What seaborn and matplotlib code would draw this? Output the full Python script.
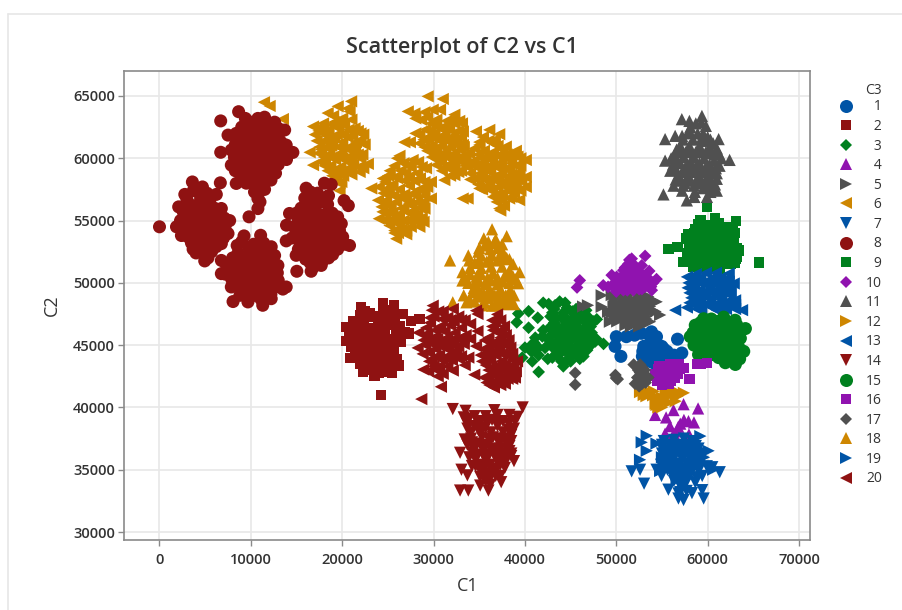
# -*- coding: utf-8 -*-
import pandas as pd
import matplotlib
matplotlib.use("Agg")
import matplotlib.pyplot as plt
from matplotlib.lines import Line2D
import seaborn as sns

# points, one list per C3 group
pts_01 = [(50000,45680),(51100,45680),(52000,45800),(52750,45950),(53850,46070),(54400,45680),(49860,44900),(50500,44100),
          (53000,44900),(52850,44100),(53800,45100),(54300,44900),(54980,44900),(55550,44500),(56700,45480),(57170,44370),
          (55900,44000),(54000,44200),(54700,44300),(53500,44500),(56300,44200),(53300,43700),(54000,43600),(55000,43800),
          (54000,45000),(53400,44300),(55000,44300),(55500,44100),(56500,44000),(54200,43800),(55200,44700),(52900,44500),
          (53700,45700),(54300,45400)]
pts_02 = [(22070,48040),(22500,47700),(24440,48390),(25700,48170),(26620,47500),(27500,46940),(28440,47080),(20440,46450),
          (20440,45320),(20870,43980),(22250,42900),(23530,42500),(25440,42770),(26170,43360),(27300,45920),(24270,41000),
          (21200,46900),(22300,46600),(23400,47300),(24200,47200),(25400,47000),(26300,46500),(21500,45700),(22700,45600),
          (23600,46000),(24700,46100),(25800,45500),(21400,44800),(22500,44600),(23500,44900),(24600,45000),(25700,44500),
          (21800,44000),(23000,43700),(24100,43900),(25100,43800),(23400,43000),(24400,42900),(24800,43300),(22800,44100),
          (22000,47400),(23000,47600),(24500,47800),(25500,47600),(20900,46400),(21800,46200),(22900,46300),(23900,46600),
          (24900,46600),(25900,46100),(26800,46000),(21000,45700),(22200,45200),(23200,45300),(24200,45500),(25200,45300),
          (26400,45300),(21000,44900),(22000,44300),(23000,44500),(24100,44400),(25100,44500),(22000,43500),(22800,43300),
          (23700,43400),(24700,43400),(25700,43600),
          (20800,45900),(21600,45100),(22500,45800),(23300,45700),(24500,44700),(25500,44900),(21400,44300),(22600,44000),
          (23500,43900),(24600,43800),(25600,44100),(22400,47000),(23500,46400),(24700,47300),(25800,46800),(21300,46300),
          (26000,43900),(23000,43000),(24000,42800)]
pts_03 = [(39270,47530),(40400,47720),(42000,48400),(42600,48300),(43800,48500),(39100,46830),(41400,47200),(40400,46400),
          (41130,45600),(47860,47070),(48600,45100),(47700,45300),(46400,44100),(44200,43300),(41500,42850),(40000,44800),
          (40800,43700),(42200,44780),(41900,45700),(44000,43700),(43200,47900),(44600,48000),(45600,47900),(46700,47800),
          (42800,47300),(44000,47200),(45200,47100),(46400,47000),(47200,46500),(42700,46400),(43800,46300),(45000,46200),
          (46200,46100),(47300,46000),(42500,45500),(43700,45400),(44900,45300),(46100,45200),(43200,44700),(44500,44500),
          (45600,44400),(46800,44600),(40700,44500),(41500,44200),(42500,43900),(41000,45200),(39700,44000),(43500,44200),
          (43000,47600),(44200,47600),(45400,47500),(46600,47400),(47500,46900),(43200,46800),(44500,46700),(45600,46600),
          (46800,46500),(43000,45900),(44300,45800),(45500,45700),(46700,45600),(47800,45500),(43000,45100),(44200,44900),
          (45500,44800),(46700,44900),(45000,44100),(46000,43900),(44600,43800),(42000,46200),(40700,45000),(41500,44800),
          (43000,44000),
          (43300,48200),(44400,48400),(45200,47700),(46200,47600),(47000,47200),(43400,47200),(44600,47100),(45800,47000),
          (47000,46500),(43400,46400),(44600,46300),(45600,46200),(47000,46000),(43500,45800),(44700,45700),(46000,45600),
          (47200,45400),(43500,45000),(44800,44900),(46000,44900),(47200,45000),(43800,44300),(45000,44600),(46200,44400),
          (45000,43700)]
pts_04 = [(54250,39400),(56260,39790),(57360,40260),(58950,39920),(55450,39200),(57400,39000),(58500,38800),(57900,38900),
          (55870,38500),(56780,38450),(55340,37900),(56700,38080),(57950,37840),(57000,38700),(56300,37900)]
pts_05 = [(46370,48100),(46900,48200),(48400,49000),(48400,48080),(49100,47680),(49300,46880),(54800,47420),(53700,46880),
          (51700,46770),(54420,48480),(49500,49020),(50500,49000),(51500,49100),(52500,49000),(53500,48900),(50200,48300),
          (51100,48200),(52200,48300),(53200,48300),(50000,47500),(51000,47600),(52000,47700),(53000,47600),(54000,47800),
          (51200,47000),(52100,47000),(50100,46900),(52500,46500),(51600,46500),(50000,48800),(51000,48700),(52000,48600),
          (53000,48700),(54000,48600),(49700,48100),(50700,47900),(51700,48000),(52700,47900),(53700,48100),(49800,47100),
          (50500,47400),(51500,47300),(52500,47200),(53300,47100),(51000,46600),(53100,46700),
          (49800,48500),(50800,48500),(51800,48500),(52800,48400),(53800,48500),(50400,47700),(51400,47800),(52400,47700),
          (53400,47600),(54300,47700),(50600,47200),(51500,46900),(52600,47000),(50000,48000),(49500,47600),(51300,48800),
          (53300,47300)]
pts_06 = [(11430,64500),(12050,64200),(13500,63150),
          (20970,64570),(19500,64170),(18400,63630),(20800,63760),(16800,62550),(17700,62550),(19100,62900),(20200,62700),
          (21350,62400),(22300,61900),(22450,61100),(16430,60480),(17500,60900),(16800,59450),(18060,59400),(22800,59550),
          (21900,58900),(21000,58700),(19350,58700),(19700,57400),(18300,61800),(19400,61900),(20600,61700),(21500,61300),
          (18400,60800),(19600,60900),(20700,60700),(21700,60300),(18000,60100),(19200,59900),(20400,59800),(21200,59500),
          (19100,59000),(20400,59100),(19900,58100),(22000,60000),
          (19000,63400),(20000,63200),(20600,64000),(17400,62200),(18500,62300),(19600,62400),(20700,62300),(21700,62200),
          (17200,61400),(18000,61400),(18900,61300),(20000,61300),(21100,60800),(22000,61400),(17400,60400),(18600,60300),
          (19800,60400),(20900,60200),(22200,60300),(17600,59700),(18700,59400),(19800,59300),(20900,59200),(21800,59300),
          (19300,58500),(20100,58600),(19700,58000),(22300,59200),
          (17900,62800),(18900,62700),(19800,62900),(21000,63100),(17000,61900),(18000,62000),(19100,61700),(20100,61900),
          (21100,61800),(22000,62000),(17700,60700),(18800,61000),(19900,60800),(21000,61000),(18100,59900),(19000,60100),
          (20000,60000),(21000,59900),(18400,59000),(19700,59100),(20700,58900),(18900,58600),(21400,60800),
          (26260,60200),(25700,59400),(24440,58380),(23170,57580),(23900,56630),(24000,55150),(25170,54600),(25900,53540),
          (27000,54200),(28440,54500),(29000,55960),(29700,56770),(29700,58100),(29170,59200),(27700,59860),(25800,58500),
          (26900,58800),(28200,58800),(25000,57600),(26200,57500),(27300,57800),(28400,57500),(24800,56600),(25900,56500),
          (27000,56700),(28200,56500),(29000,57000),(25000,55700),(26200,55500),(27300,55600),(28200,55500),(26200,54700),
          (27200,55000),(28200,54900),(25700,54200),
          (26700,59600),(25200,59000),(26400,59000),(27500,59300),(28700,59300),(24700,58100),(25500,57900),(26800,58200),
          (27900,58200),(29000,58100),(24500,57200),(25600,57000),(26800,57100),(27800,57200),(28900,57400),(24300,56100),
          (25300,56100),(26500,56000),(27600,56200),(28600,56000),(24700,55100),(25700,55100),(26700,55000),(27700,55100),
          (28700,55200),(25700,54000),(26500,54300),(27500,54500),
          (26000,60000),(27200,59400),(28300,59700),(25000,58600),(26000,58400),(27300,58500),(28500,58400),(24000,57700),
          (25100,57300),(26300,56900),(27300,56400),(28000,57000),(29300,57700),(24500,56500),(25500,55600),(26700,55900),
          (27800,55800),(28900,56500),(24400,55700),(26100,54000),(27000,53900),(28000,55300),(24900,54900),(28900,54900),
          (26000,55000),
          (29350,64970),(31000,64760),(27170,63760),(27900,63600),(28630,63090),(29900,63900),(30700,63900),(32270,63500),
          (32800,63000),(26800,61290),(27400,61290),(28440,61880),(28440,61200),(33200,62150),(33200,61070),(33360,59860),
          (30260,59460),(31170,58250),(32270,58650),(29700,62800),(30700,62400),(31700,62300),(32700,62200),(29400,61500),
          (30400,61500),(31400,61400),(32500,61300),(29300,60600),(30300,60600),(31300,60500),(32300,60400),(30800,59700),
          (31900,59600),(33000,59000),(32800,59800),
          (29300,63300),(30300,63100),(31400,63000),(32300,62800),(29100,62300),(30100,62000),(31200,61900),(32200,61800),
          (33000,61700),(28900,61500),(29800,61000),(30800,61000),(31800,60900),(32900,60700),(29800,60100),(30700,60100),
          (31700,60000),(32700,60000),(33500,60300),(30300,59900),(31300,59300),(32300,59200),(33500,59400),(31800,58600),
          (30000,60500),
          (28000,62000),(29700,61800),(30700,61700),(31800,61600),(32700,61000),(29000,60900),(30200,60300),(31200,60200),
          (32200,59900),(33300,60900),(29000,63700),(30200,62700),(31200,62500),(32000,63100),(29600,62200),(31800,59200),
          (32700,58900),(30900,59000),(28000,63200),(33100,62800),
          (34630,62150),(36090,62280),(37180,61930),(37900,60940),(40090,59860),(39180,60130),(35000,61070),(36450,61200),
          (33900,60400),(33720,59320),(40090,58500),(40090,57700),(39360,56640),(38270,56770),(37180,55960),(33720,56770),
          (33180,56770),(35000,57580),(36800,57040),(34900,60300),(35900,60100),(37000,60200),(38000,60000),(39000,59400),
          (34700,59300),(35800,59200),(36900,59300),(38000,59100),(39100,58600),(34500,58400),(35600,58300),(36700,58400),
          (37900,58200),(39000,57900),(35800,57600),(37000,57700),(38100,57400),(37400,56700),(38600,57600),
          (35400,61700),(36700,61500),(35500,60600),(36500,60500),(37500,60700),(38500,60300),(34400,59800),(35400,59700),
          (36400,59800),(37400,59700),(38500,59600),(39500,59400),(34000,58800),(35100,58800),(36200,58900),(37400,58800),
          (38500,58700),(39600,58200),(34900,57900),(36100,57900),(37400,58000),(38500,58100),(39500,57400),(36400,57400),
          (37500,57100),(36900,56500),(37700,56200),(38500,56900),
          (35000,61300),(36000,61400),(37000,61000),(38000,60300),(39000,60600),(34500,60800),(35300,60000),(36300,60100),
          (37300,60100),(38300,59900),(39500,60000),(34200,59500),(35100,59300),(36100,59400),(37200,59200),(38300,59300),
          (39400,58900),(34000,58300),(35300,58400),(36300,58400),(37100,58300),(38200,58500),(39200,58300),(35300,57500),
          (36500,56900),(37900,57700),(38800,57200),(37300,55800)]
pts_07 = [(51680,34870),(52600,35000),(53040,33880),(55700,33400),(56800,32690),(57360,32570),(59560,32690),(58280,33120),
          (59400,33360),(58650,33970),(59400,34500),(61320,34800),(59900,35280),(54400,35000),(54950,34500),(55200,37300),
          (56300,37400),(57400,37500),(58300,37300),(55200,36500),(56100,36600),(57200,36700),(58200,36500),(59000,36700),
          (55300,35700),(56200,35800),(57200,35900),(58200,35800),(59200,35700),(55600,35000),(56500,35000),(57500,35100),
          (58300,35000),(56500,34300),(57200,34300),(57000,33700),(57700,33300),(60500,35200),(59000,34900),
          (55000,36800),(55800,37000),(56800,37000),(57800,37000),(58700,36900),(55500,36200),(56500,36200),(57500,36300),
          (58500,36200),(59300,36300),(54900,35400),(55800,35500),(56700,35500),(57700,35500),(58700,35500),(56000,34700),
          (56900,34700),(57800,34700),(56300,34100),(57100,33900),(57800,34200),(55200,35300),(58800,34400),
          (55000,37000),(55600,36500),(56500,36800),(57500,36700),(58500,36800),(55000,36300),(56000,36000),(57000,36200),
          (58000,36100),(59000,36000),(55500,35300),(56300,35400),(57200,35000),(58000,35200),(55100,35000),(56100,35000),
          (57200,34600),(58200,34800),(56800,34100),(57500,33900),(57000,33200),(56800,33100),(59100,35300)]
pts_08 = [(8660,63740),(9400,63200),(10770,63200),(11500,63300),(12600,62900),(13000,62400),(13700,62270),(13870,61060),
          (14600,60470),(7500,61860),(7860,60660),(7860,59450),(8400,57980),(8900,58200),(12200,58250),(10770,56770),
          (10770,55960),(6700,63000),(6700,60480),(9000,62500),(10200,62400),(11400,62300),(12500,62000),(8900,61500),
          (10000,61400),(11200,61300),(12400,61000),(13300,61300),(8700,60500),(9900,60400),(11100,60300),(12300,60200),
          (13300,60100),(8800,59500),(9900,59400),(11000,59300),(12200,59300),(13000,59500),(9000,58800),(10000,58500),
          (11000,58400),(12300,58900),(10500,57600),(11000,57600),
          (9500,63000),(10000,62900),(11000,62800),(12000,62500),(8400,62000),(9500,62000),(10700,61900),(11900,61700),
          (13000,61800),(8300,61100),(9400,60900),(10600,60900),(11800,60800),(12900,60700),(13800,60500),(8200,60100),
          (9300,60000),(10500,59900),(11700,59800),(12800,59800),(13900,59900),(8300,59000),(9400,58900),(10500,58900),
          (11600,58800),(12700,58800),(9500,58000),(10500,58100),(11500,58000),(10800,57100),(11000,56500),(10400,57300),
          (11500,57500),
          (0,54500),(9800,55300),(3600,58100),(6660,58030),(4700,57700),(2770,57100),(6220,57100),(2100,56100),
          (1860,54500),(2400,53800),(3680,52700),(4950,51760),(7680,55000),(7500,53960),(6770,53150),(6770,55970),
          (3300,56300),(4500,56800),(5500,56500),(2900,55400),(4100,55600),(5300,55500),(6400,55000),(3200,54400),
          (4400,54500),(5600,54400),(6800,54400),(3100,53700),(4300,53500),(5500,53300),(4700,52700),(5700,52500),
          (3700,57400),(5200,57200),(3000,56700),(4000,56200),(5000,56100),(6000,56000),(2600,55700),(3500,55700),
          (4700,55000),(5900,54900),(7100,55200),(2300,55000),(3700,55000),(2500,54400),(3800,53900),(5000,53900),
          (6200,53800),(7000,53600),(3500,53200),(4900,52900),(6200,52900),(4000,52400),(5300,52000),(6000,53300),
          (4200,54900),(3900,55400),(5500,55000),(4800,54300),(3000,54800),(5900,55700),(7200,54600),(4500,53100),(5600,52900),
          (9250,53770),(11070,53820),(12230,52900),(12600,52200),(12960,51400),(13870,49670),(12230,48730),(8050,48500),
          (9680,48470),(11300,48200),(6770,51800),(6770,50740),(7860,49670),(8500,53000),(9800,52800),(11000,52800),
          (8000,52000),(9300,51900),(10500,51800),(11700,51800),(7800,51000),(9000,51000),(10300,50900),(11500,50900),
          (12500,50600),(8500,50000),(9800,49900),(11000,49900),(12400,49800),(9300,49200),(10500,49100),(11700,49200),
          (9000,53300),(10300,53100),(11400,53200),(8600,52400),(9900,52300),(11100,52200),(12100,52300),(7300,51500),
          (8600,51400),(9900,51300),(11100,51300),(12300,51300),(7200,50700),(8400,50500),(9600,50400),(10800,50400),
          (12000,50300),(13000,50200),(7900,50300),(9100,49500),(10300,49400),(11500,49500),(12800,49700),(13500,49500),
          (8800,49000),(10000,48900),(11100,48700),(12200,49100),(11400,48800),
          (9700,52000),(8000,51500),(9400,50900),(11800,52600),(10700,50000),(12900,50800),(9000,50000),
          (18050,58000),(18800,57900),(16050,57600),(15900,56800),(20200,56600),(20670,56200),(18400,56300),(14230,55570),
          (13900,54630),(13870,53370),(19900,54750),(20050,53690),(20800,53000),(18950,52270),(17700,51400),(16600,50930),
          (15030,50930),(14960,52210),(16800,56900),(15500,56000),(17000,56000),(18200,55500),(15200,55000),(16500,55100),
          (17800,54900),(19000,55000),(15000,54000),(16300,54100),(17600,54000),(18800,53900),(15400,53200),(16600,53100),
          (17900,53000),(19200,53100),(15800,52300),(17000,52200),(18000,52200),(16500,51600),(17200,52000),
          (17300,57200),(18500,57000),(16500,57300),(16300,56400),(17600,56500),(15000,55600),(16000,55500),(17500,55500),
          (18900,55600),(19500,55300),(14700,54500),(16000,54500),(17200,54600),(18400,54400),(19700,54200),(14500,53600),
          (15800,53600),(17000,53500),(18400,53500),(19700,53400),(20300,53100),(15200,52700),(16200,52600),(17500,52600),
          (18800,52700),(19500,52700),(16000,51900),(17800,51700),(18500,52000),(16900,51300),
          (16700,54800),(17800,55400),(15500,54600),(18100,53300),(16500,52100),(19300,54500),(18600,55000),(15600,53900)]
pts_09 = [(59920,56140),(65590,51620),(55700,52740),(56700,52870),(59200,55000),(60830,55200),(63100,54950),(62800,54400),
          (57600,53550),(58600,54280),(63400,52600),(57300,51680),(58400,51300),(63000,51620),(61700,51500),(59300,54300),
          (60300,54200),(61300,54000),(62500,53800),(58400,53400),(59500,53300),(60600,53200),(61700,53200),(62900,53200),
          (58300,52600),(59500,52500),(60600,52400),(61800,52400),(62800,52300),(58600,51800),(59700,51700),(60800,51600),
          (61900,51900),(59200,51200),(60300,51100),(61300,51000),
          (59000,54700),(60200,54600),(61200,54800),(62400,54500),(57900,53900),(59000,53900),(60100,53800),(61200,53700),
          (62300,53500),(63000,54000),(58000,53000),(59000,52900),(60000,52900),(61200,52800),(62300,52800),(63200,52800),
          (57900,52100),(59000,52100),(60100,52000),(61300,52000),(62400,51900),(63200,52100),(58700,51400),(60000,51400),
          (61000,51400),(62400,51500),
          (59800,54600),(60600,54500),(61700,54300),(58500,54000),(59500,53800),(60600,53700),(61700,53700),(62800,53600),
          (58400,52900),(59500,52800),(60600,52800),(61800,52800),(57800,52400),(59000,52500),(60100,52400),(61200,52400),
          (62400,52300),(63100,51900),(58400,51700),(59300,51700),(60400,51800),(61400,51500),(62500,51500)]
pts_10 = [(46000,50200),(45700,49630),(51430,51840),(53150,52160),(49500,50620),(48570,49800),(50950,51220),(53600,50950),
          (54400,50300),(49100,49680),(52780,51400),(51870,51280),(50770,51010),(53330,50480),(50040,50480),(51130,50210),
          (52230,50210),(53150,49680),(50770,49410),(51870,49410),(53880,49410),(49850,49550),(51680,51940),(52500,50800),
          (50300,50000),(51500,50000),(52700,49900),(53600,50000),(50300,49700),(51300,49700),(52500,49500),(49800,50000),
          (52000,50700),(51000,50600),(52900,50600),(51300,51500),(52300,51000),(50600,50500),
          (50500,49900),(51200,49400),(52000,49800),(53000,50300),(51600,50500),(52400,50500),(50300,50200),(49600,49800),
          (51000,50200),(52000,51400),(53800,49700),(51000,49700),(52800,49500),(50000,49300),(51500,51000),(54000,50000)]
pts_11 = [(59370,63400),(57170,63140),(55340,61540),(56440,61800),(59800,62600),(61200,61540),(62400,59870),(55340,59810),
          (55900,59000),(56260,57800),(55160,57100),(57720,56620),(58530,56900),(59920,56900),(61000,57400),(61000,58350),
          (58700,62800),(57800,62000),(58900,62000),(60000,61700),(57000,61000),(58000,61000),(59100,61000),(60200,60900),
          (61000,60800),(56300,60200),(57400,60100),(58500,60100),(59600,60000),(60700,59800),(61500,60000),(56500,59100),
          (57600,59100),(58700,59100),(59800,59000),(60800,59000),(57000,58200),(58000,58200),(59000,58000),(60100,58100),
          (57300,57800),(58600,57300),(59500,57600),(60500,57700),
          (58100,62500),(59500,62000),(57300,61500),(58400,61500),(59500,61400),(60600,61200),(56600,60700),(57600,60500),
          (58700,60500),(59800,60500),(60800,60300),(56000,60000),(57000,59600),(58100,59700),(59100,59600),(60200,59500),
          (61300,59400),(56800,58700),(57900,58600),(59100,58500),(60200,58500),(61000,58800),(57500,58000),(58500,57800),
          (59700,57800),(60300,57300),(56500,58300),
          (58000,63000),(59300,62900),(58000,62200),(57200,61800),(59400,61700),(60300,61500),(57000,60500),(58100,60600),
          (59300,60500),(60300,60400),(61200,60400),(56700,59800),(57700,59500),(58800,59500),(59800,59300),(60900,59200),
          (56200,59500),(57200,58900),(58200,58900),(59300,58900),(60400,58900),(57700,58300),(58800,58300),(59800,58300),
          (60800,57900),(58500,56900),(57200,57400),(60200,58000)]
pts_12 = [(52600,41230),(53300,41350),(54030,40970),(54400,40200),(55700,41100),(55800,40400),(56800,41200),(57400,41170),
          (56500,40500),(54900,40400),(53300,40900),(55000,40800),(56200,41300),(54600,40000),(53000,41000),(53800,41200),
          (54500,40700),(55300,40500),(56000,41000),(56700,40900),(55400,41100),(54300,40300),(55000,40000),(54100,41300)]
pts_13 = [(57720,50480),(56440,47810),(57720,48020),(63760,47810),(62850,49950),(62300,50750),(58700,50700),(59800,50800),
          (60900,50800),(58500,49800),(59600,49900),(60700,49900),(61800,50000),(58600,49000),(59700,49100),(60800,49100),
          (61900,49200),(62500,49100),(58700,48200),(59800,48300),(60900,48300),(62000,48300),(63000,47900),(58800,47900),
          (61000,47800),(62000,47900),
          (58200,50300),(59200,50400),(60300,50300),(61400,50400),(62200,50400),(57800,49600),(59100,49400),(60200,49500),
          (61300,49500),(62300,49700),(58200,48800),(59200,48700),(60300,48700),(61400,48700),(62400,48600),(58300,48400),
          (59300,47900),(60500,48000),(61500,48000),(62600,48200),
          (57900,50000),(58800,50100),(59900,50100),(61000,50100),(62300,50100),(58400,49300),(59400,49100),(60400,49200),
          (61500,49100),(62500,49300),(58000,48400),(59000,48400),(60100,48400),(61200,48300),(62300,48400),(63000,48600),
          (58000,49200),(61900,49600),(60700,50500),(63000,48200)]
pts_14 = [(32100,39870),(33500,39730),(36650,39780),(39750,40000),(39200,39250),(38800,38300),(33600,38780),(33400,37430),
          (32900,36360),(38800,35690),(37800,35150),(33050,35000),(33700,34550),(35100,34430),(37400,34000),(32900,33330),
          (33800,33330),(36000,33330),(35100,33730),(36300,34500),(34500,39300),(35700,39300),(37000,39400),(38300,39400),
          (34500,38500),(35700,38400),(37000,38500),(38200,38200),(34100,37500),(35300,37600),(36500,37600),(37800,37500),
          (38500,37300),(34400,36700),(35500,36600),(36800,36600),(38000,36700),(34600,35800),(35700,35800),(36900,35800),
          (35300,35100),(36300,35000),(36800,34500),(38300,36500),(33900,36000),
          (33900,39100),(35100,38900),(36400,39000),(37600,38900),(38900,38900),(34100,38000),(35200,38000),(36300,38000),
          (37600,38000),(38500,37800),(33700,37000),(34800,37100),(36000,37000),(37200,37100),(38300,36900),(34800,36200),
          (36100,36200),(37400,36300),(38500,36100),(35000,35400),(36200,35400),(37300,35400),(38000,35800),(35800,34700),
          (36700,35100),(37300,34500),(34200,35300),(35700,34100),(36200,33800),
          (33300,39200),(34800,38900),(35800,38800),(37000,38900),(38200,38700),(33700,38300),(34900,38200),(36000,37500),
          (37100,37500),(38300,37500),(34200,37200),(35200,36900),(36300,36700),(37300,36700),(38000,37100),(34200,36400),
          (35400,36200),(36700,36100),(37900,36200),(34600,35300),(35600,35300),(36900,35000),(37700,35600),(35900,34400),
          (35200,34800),(38500,36300)]
pts_15 = [(64130,46330),(59550,47120),(61750,47250),(63200,46600),(63580,45550),(63950,44500),(63030,43450),(61930,43590),
          (60650,44240),(59000,44240),(58090,45680),(58640,46600),(60400,47100),(61000,46300),(59800,46300),(62200,46300),
          (59200,45500),(60400,45400),(61600,45300),(62800,45500),(60200,44800),(61400,44600),(62600,44500),(63200,44200),
          (62300,43800),(61200,44000),(58500,45000),(63000,47000),(60000,45900),
          (60000,46800),(61000,46900),(62000,46900),(62800,46400),(59000,46000),(60600,46000),(61400,46000),(62500,45800),
          (63300,45700),(58600,45400),(59800,45300),(61000,45100),(62200,45000),(63300,45000),(59500,44700),(60800,44900),
          (61800,44200),(62900,44000),(63500,44700),(62500,44300),(63500,43900),(61500,45600),(59500,44300),(58400,46000),
          (59200,46800),(60500,46600),(61500,46700),(62500,46600),(59400,45900),(60200,45600),(61000,45700),(62000,45500),
          (63000,45200),(59000,45000),(60200,44500),(61400,44300),(62000,44800),(59700,44900)]
pts_16 = [(55000,43320),(55900,43500),(56800,43500),(57440,43190),(54250,42670),(55350,42700),(56300,42800),(55350,42000),
          (56000,42100),(58800,43500),(59900,43590),(58000,42270),(54600,43100),(54500,42100),(56700,42700),(59300,43500),
          (55700,42400),(55400,43200),(56300,43200),(57000,43100),(54700,42400),(55600,42800),(56400,42400),(55000,41800),
          (55700,41900),(54700,43300),(54400,42500)]
pts_17 = [(45500,42770),(45500,41830),(50150,42270),(49980,42360),(52600,43440),(51900,43440),(52600,42800),(53500,42400),
          (52050,41900),(52800,41900),(53100,43000),(52300,42400),(49900,42600),(52400,43000),(53000,42400),(52500,41700),
          (53200,42000),(52800,43200)]
pts_18 = [(36400,54300),(35500,53570),(38000,53750),(36800,53500),(31800,51800),(33800,52200),(39400,50860),(33160,50860),
          (33160,50190),(39250,49970),(38500,49250),(34270,49250),(32100,48440),(33600,48440),(38800,48300),(36400,48170),
          (34900,52500),(36200,52700),(37500,52600),(38300,51900),(34500,51600),(35800,51700),(37000,51800),(38300,51000),
          (34000,50700),(35200,50700),(36500,50800),(37800,50600),(34500,50000),(35700,49900),(37000,49900),(38300,50000),
          (35200,49200),(36400,49200),(37400,49300),(34500,48500),(35600,48400),(37000,48500),(38000,48400),
          (35600,53000),(36600,53200),(37500,53100),(35200,52200),(36400,52200),(37600,52200),(38700,51500),(34000,51200),
          (35200,51200),(36300,51300),(37500,51300),(38700,50500),(33500,50300),(34700,50500),(35900,50400),(37000,50400),
          (38400,50500),(34900,49500),(36100,49500),(37300,49500),(38300,49300),(35000,48900),(36000,48800),(37100,48900),
          (38200,48900),(34000,48600),(37500,48300),
          (35000,51800),(36100,51900),(37200,52000),(38000,52000),(33900,51800),(33800,50000),(35000,50100),(36300,50200),
          (37600,50100),(39000,50300),(34400,49600),(35500,49100),(36700,49000),(37900,49000),(33300,49000),(38800,49000),
          (35300,48200),(36800,48200),(38400,48300),(35000,52800),(36000,53300),(37000,52800)]
pts_19 = [(53330,37730),(52780,37200),(53330,36520),(52600,35800),(59200,37700),(60100,36520),(54400,37100),(55300,36800),
          (56500,36400),(57700,36200),(58800,36200),(55000,36000),(56000,35400),(57200,35400),(58600,35500),(59600,36000),
          (54800,34900),(56600,34200),(58000,34400),(57400,37000),(60600,35000)]
pts_20 = [(29900,48170),(32100,47900),(34640,47770),(34000,46700),(34800,46130),(34640,44920),(28330,46000),(28250,44780),
          (33000,44110),(28870,43040),(34450,42630),(30450,42500),(30800,41660),(28650,40670),(32100,42960),(30500,47700),
          (31500,47200),(32700,47300),(29600,46800),(30700,46500),(31800,46600),(33000,46400),(29300,45700),(30400,45500),
          (31500,45600),(32700,45500),(29100,45000),(30200,44700),(31400,44700),(32500,44600),(29800,43900),(31000,43800),
          (32000,43800),(30000,43300),(33400,43400),(34800,47500),
          (30000,47300),(31000,47700),(32200,46900),(33400,47000),(29200,46400),(30200,46200),(31200,46100),(32300,46000),
          (33500,45800),(28900,45400),(29900,45100),(30900,45200),(32000,45100),(33300,45100),(29500,44400),(30600,44200),
          (31700,44200),(32800,43900),(34000,45500),(30600,43300),(31500,43300),(29400,42900),
          (29800,47800),(30900,47100),(31800,47000),(33000,47000),(29200,45900),(30200,45700),(31200,45500),(32200,45500),
          (33300,45600),(29600,45200),(30600,45000),(31600,44900),(32700,44900),(29500,43700),(30500,44000),(31500,43900),
          (32400,44300),(28800,44300),(30300,43000),(31000,42700),(33800,44000),(29600,47200),
          (36950,47470),(36400,46500),(37700,46500),(36000,45600),(37300,45600),(38200,45400),(35150,44200),(38600,44300),
          (39130,43700),(35500,42400),(36600,41600),(38600,42300),(36000,44700),(37200,44700),(38400,44800),(36200,43800),
          (37400,43700),(38000,43000),(36000,43000),(37000,42700),(37800,41900),(36800,42100),(39000,42900),
          (36700,46900),(37100,46000),(36300,45100),(37600,45100),(38300,44100),(35800,44200),(36800,44200),(37900,44300),
          (35700,43400),(36800,43300),(37800,43400),(38700,43400),(36500,42600),(37600,42500),(38500,42600),(35800,42000),
          (37300,41800),(37000,45300),(36400,47000),
          (36500,46200),(37400,46200),(36700,45000),(38000,45000),(35500,44700),(36400,44400),(37500,44300),(38600,43800),
          (35300,43700),(36300,43200),(37300,43100),(38300,43100),(36000,42500),(37100,42200),(38100,42300),(36100,41800),
          (38900,42400),(37300,47000),(37900,45800),(35600,45400)]

c3_values = list(range(1, 21))
all_pts = [pts_01, pts_02, pts_03, pts_04, pts_05, pts_06, pts_07, pts_08, pts_09, pts_10,
           pts_11, pts_12, pts_13, pts_14, pts_15, pts_16, pts_17, pts_18, pts_19, pts_20]
x_ticks = [0, 10000, 20000, 30000, 40000, 50000, 60000, 70000]
y_ticks = [30000, 35000, 40000, 45000, 50000, 55000, 60000, 65000]

colors_cycle = ["#0054A6", "#8F1212", "#00801E", "#9013AF", "#505050", "#CE8600"]
markers_cycle = ["o", "s", "D", "^", ">", "<", "v"]
size_by_marker = {"o": 88, "s": 56, "D": 42, "^": 78, ">": 78, "<": 78, "v": 78}

rows = []
for c3, pts in zip(c3_values, all_pts):
    for x, y in pts:
        rows.append({"C1": x, "C2": y, "C3": c3})
df = pd.DataFrame(rows)

palette = {c: colors_cycle[(c - 1) % 6] for c in c3_values}
markers = {c: markers_cycle[(c - 1) % 7] for c in c3_values}
sizes = {c: size_by_marker[markers[c]] for c in c3_values}

sns.set_theme(style="whitegrid")
plt.rcParams["font.family"] = ["Open Sans", "DejaVu Sans"]
text_col = "#333333"

fig = plt.figure(figsize=(9.03, 6.10), dpi=100)
W, H = 903, 610
ax = fig.add_axes([124.5 / W, 1 - 539.5 / H, (810 - 124.5) / W, (539.5 - 70.7) / H])

sns.scatterplot(data=df, x="C1", y="C2", hue="C3", style="C3", size="C3", palette=palette,
                markers=markers, sizes=sizes, linewidth=0, legend="full", ax=ax)

ax.set_xlim(-3830, 71200)
ax.set_ylim(29400, 67030)
ax.set_xticks(x_ticks)
ax.set_yticks(y_ticks)
ax.grid(True, color="#e8e8e8", linewidth=1.2)
ax.set_axisbelow(True)
for s in ax.spines.values():
    s.set_color("#8a8a8a")
    s.set_linewidth(1.2)
ax.tick_params(axis="x", pad=6)
ax.tick_params(axis="y", pad=3)
ax.tick_params(axis="both", length=4, width=1, color="#8a8a8a", labelsize=10.5, labelcolor=text_col,
               bottom=True, left=True)
for t in ax.get_xticklabels() + ax.get_yticklabels():
    t.set_fontweight("semibold")
ax.set_xlabel("C1", fontsize=13, color=text_col, labelpad=7, fontweight="medium")
ax.set_ylabel("C2", fontsize=13, color=text_col, labelpad=9, fontweight="medium")
ax.set_title("Scatterplot of C2 vs C1", fontsize=15.5, color=text_col, fontweight="semibold", pad=12.5, x=0.4923)

handles, labels = ax.get_legend_handles_labels()
labels_pad = [str(c).rjust(2, "\u2007") for c in c3_values]
leg = ax.legend(handles[-20:], labels_pad, title="C3", loc="upper left", bbox_to_anchor=(832 / W, 1 - 83 / H),
                bbox_transform=fig.transFigure, frameon=False, fontsize=10, title_fontsize=10,
                labelspacing=0.33, handletextpad=0.45, borderpad=0, borderaxespad=0, alignment="right")
leg._legend_box.sep = 1
for t in leg.get_texts() + [leg.get_title()]:
    t.set_color(text_col)

# pale frame of the graph window, open towards the right and bottom edges
fig.add_artist(Line2D([8 / W, 8 / W], [0, 1 - 14 / H], color="#e6e6e6", linewidth=1.2))
fig.add_artist(Line2D([8 / W, 1], [1 - 14 / H, 1 - 14 / H], color="#e6e6e6", linewidth=1.2))

fig.savefig("out.png", dpi=100)
